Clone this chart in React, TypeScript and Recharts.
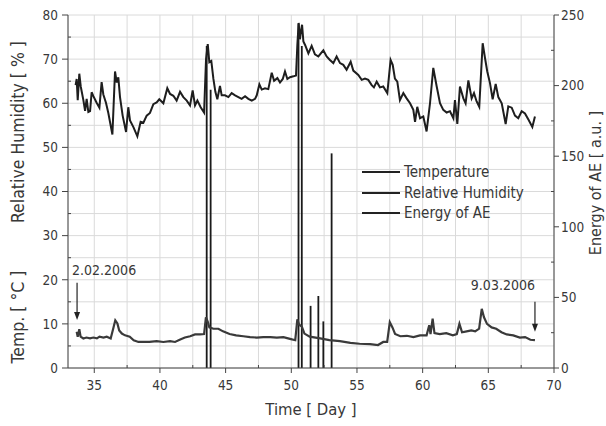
import { Bar, CartesianGrid, ComposedChart, Label, Legend, Line, ReferenceLine, XAxis, YAxis } from "recharts"

// humidity (left axis, %)
const rhDays = [
  33.58, 33.66, 33.74, 33.86, 33.97, 34.17, 34.3, 34.42, 34.55, 34.68, 34.8, 34.93, 35.18, 35.39, 35.56, 35.69,
  35.89, 36.07, 36.38, 36.58, 36.71, 36.83, 36.96, 37.16, 37.42, 37.59, 37.72, 37.98, 38.28, 38.53, 38.74, 38.99,
  39.24, 39.5, 39.75, 39.95, 40.26, 40.56, 40.77, 41.02, 41.27, 41.53, 41.78, 42.04, 42.29, 42.49, 42.67, 42.85,
  43.1, 43.36, 43.51, 43.64, 43.76, 43.91, 44.07, 44.22, 44.37, 44.57, 44.7, 44.95, 45.21, 45.46, 45.72, 45.97,
  46.22, 46.48, 46.73, 46.99, 47.24, 47.37, 47.57, 47.75, 48.0, 48.25, 48.51, 48.69, 48.94, 49.14, 49.35, 49.52,
  49.7, 49.9, 50.16, 50.36, 50.46, 50.56, 50.66, 50.72, 50.82, 50.92, 51.05, 51.3, 51.55, 51.8, 52.06, 52.44,
  52.69, 52.94, 53.2, 53.45, 53.71, 53.96, 54.21, 54.52, 54.72, 55.1, 55.36, 55.61, 55.86, 56.12, 56.29, 56.5,
  56.75, 57.0, 57.31, 57.56, 57.72, 57.89, 58.07, 58.27, 58.53, 58.78, 59.04, 59.29, 59.42, 59.59, 59.8, 60.05,
  60.3, 60.56, 60.81, 61.07, 61.32, 61.57, 61.83, 62.08, 62.34, 62.46, 62.64, 62.84, 63.1, 63.27, 63.48, 63.73,
  63.91, 64.11, 64.31, 64.57, 64.75, 64.92, 65.13, 65.33, 65.56, 65.76, 66.02, 66.32, 66.52, 66.78, 67.03, 67.28,
  67.54, 67.79, 68.05, 68.35, 68.55,
]
const rhValues = [
  64.1, 65.5, 60.7, 66.7, 63.8, 60.7, 58.3, 61.0, 58.0, 58.2, 62.5, 61.6, 60.1, 59.0, 64.8, 62.0,
  60.1, 57.8, 52.9, 67.2, 64.7, 65.9, 61.4, 57.2, 53.5, 59.1, 56.1, 54.6, 52.5, 55.8, 55.6, 57.2,
  57.8, 59.8, 60.2, 60.9, 60.0, 63.4, 62.1, 61.7, 60.6, 62.6, 61.4, 60.6, 59.5, 62.9, 59.5, 60.6,
  59.1, 57.9, 70.0, 73.4, 69.3, 69.6, 65.5, 62.6, 60.9, 63.9, 61.8, 61.8, 61.4, 62.3, 61.8, 61.4,
  61.0, 61.6, 61.0, 60.6, 61.0, 61.8, 64.3, 63.1, 63.4, 63.2, 66.9, 65.1, 65.7, 64.7, 65.5, 67.2,
  65.5, 65.9, 66.1, 66.3, 73.2, 78.2, 74.5, 76.0, 77.8, 74.0, 73.2, 71.3, 73.0, 71.1, 70.6, 72.0,
  70.6, 69.8, 69.1, 70.6, 69.1, 68.7, 67.6, 69.4, 67.4, 66.4, 65.3, 65.6, 65.3, 64.1, 63.6, 64.9,
  63.6, 63.8, 62.3, 69.8, 68.7, 65.6, 64.9, 60.7, 62.3, 61.1, 60.0, 58.5, 55.8, 59.2, 56.6, 57.0,
  53.6, 60.0, 68.0, 63.8, 60.0, 58.5, 57.9, 58.2, 56.6, 60.7, 55.3, 63.8, 61.1, 60.0, 65.2, 61.1,
  62.3, 60.4, 59.2, 73.6, 70.2, 67.2, 64.5, 60.9, 64.4, 61.4, 60.0, 55.3, 59.3, 59.0, 57.2, 56.6,
  58.2, 57.7, 56.3, 54.6, 57.0,
]

// temperature (left axis, °C)
const tempDays = [
  33.66, 33.74, 33.86, 33.96, 34.17, 34.4, 34.68, 34.93, 35.2, 35.4, 35.7, 35.95, 36.25, 36.45, 36.6, 36.76,
  36.9, 37.1, 37.34, 37.7, 38.0, 38.36, 38.74, 39.2, 39.75, 40.26, 40.77, 41.15, 41.5, 41.9, 42.3, 42.67,
  43.05, 43.36, 43.5, 43.65, 43.76, 44.07, 44.45, 44.8, 45.3, 45.8, 46.35, 46.86, 47.37, 47.87, 48.4, 48.9,
  49.4, 49.9, 50.3, 50.46, 50.6, 50.8, 51.0, 51.4, 52.2, 52.9, 53.7, 54.5, 55.2, 56.0, 56.6, 57.0,
  57.3, 57.5, 57.7, 57.9, 58.3, 58.8, 59.3, 59.8, 60.3, 60.5, 60.6, 60.76, 60.9, 61.3, 61.8, 62.3,
  62.6, 62.8, 63.0, 63.35, 63.7, 64.0, 64.3, 64.5, 64.67, 64.9, 65.25, 65.6, 66.0, 66.4, 66.9, 67.4,
  67.8, 68.2, 68.55,
]
const tempValues = [
  8.2, 7.1, 8.8, 7.1, 6.7, 6.9, 6.7, 6.9, 6.7, 7.1, 6.9, 7.1, 6.7, 9.0, 10.8, 10.1,
  8.5, 7.8, 7.4, 7.1, 6.3, 5.9, 5.9, 5.9, 6.1, 5.9, 6.1, 5.9, 6.4, 6.9, 7.2, 7.6,
  7.6, 7.7, 11.5, 10.4, 9.2, 8.9, 8.9, 8.3, 7.7, 7.4, 7.2, 7.0, 6.9, 7.0, 7.0, 6.9,
  7.0, 6.6, 6.3, 11.0, 9.8, 9.4, 7.8, 7.1, 6.7, 6.3, 6.1, 5.7, 5.5, 5.4, 5.2, 5.9,
  5.9, 10.4, 9.2, 7.7, 7.2, 7.3, 7.0, 7.4, 7.4, 9.7, 7.7, 11.2, 7.9, 7.7, 7.9, 7.4,
  7.7, 10.0, 8.1, 8.3, 8.5, 8.3, 8.9, 13.4, 11.5, 10.0, 9.2, 8.9, 8.1, 7.6, 7.4, 6.9,
  7.0, 6.4, 6.3,
]

// acoustic emission energy (right axis, a.u.)
const aeDays = [43.56, 43.86, 50.55, 50.8, 51.47, 52.06, 52.44, 53.07]
const aeValues = [228, 197, 244, 228, 44, 51, 33, 152]

const xTicks = [35, 37.5, 40, 42.5, 45, 47.5, 50, 52.5, 55, 57.5, 60, 62.5, 65, 67.5, 70]
const leftTicks = [0, 5, 10, 15, 20, 25, 30, 35, 40, 45, 50, 55, 60, 65, 70, 75, 80]
const rightTicks = [0, 25, 50, 75, 100, 125, 150, 175, 200, 225, 250]

const legendNames = ["Temperature", "Relative Humidity", "Energy of AE"]

const annotations = [
  { text: "2.02.2006", day: 33.69, from: 19.3, to: 10.9, anchor: "start" },
  { text: "9.03.2006", day: 68.55, from: 15.0, to: 8.2, anchor: "end" },
]

type Row = { day: number; rh?: number; temp?: number; ae?: number }

const byDay = new Map<number, Row>()
function put(days: number[], values: number[], key: "rh" | "temp" | "ae") {
  days.forEach((d, i) => {
    const row = byDay.get(d) ?? { day: d }
    row[key] = values[i]
    byDay.set(d, row)
  })
}
put(rhDays, rhValues, "rh")
put(tempDays, tempValues, "temp")
put(aeDays, aeValues, "ae")
const rows = [...byDay.values()].sort((a, b) => a.day - b.day)

const font = "'DejaVu Sans Condensed', 'DejaVu Sans', sans-serif"
const ink = "#383838"
const axisInk = "#444"

function BottomTick({ x, y, payload }: any) {
  const v = payload.value
  const major = v % 5 === 0
  return (
    <g>
      <line x1={x} x2={x} y1={y} y2={major ? y + 5 : y - 3} stroke={axisInk} />
      {major && (
        <text x={x} y={y + 22} textAnchor="middle" fontSize={13.5} fontFamily={font} fill={ink}>
          {v}
        </text>
      )}
    </g>
  )
}

function TopTick({ x, y, payload }: any) {
  const major = payload.value % 5 === 0
  return <line x1={x} x2={x} y1={y} y2={y + (major ? 5 : 3)} stroke={axisInk} />
}

function LeftTick({ x, y, payload }: any) {
  const v = payload.value
  const major = v % 10 === 0
  return (
    <g>
      <line x1={major ? x - 6 : x} x2={major ? x : x + 3} y1={y} y2={y} stroke={axisInk} />
      {major && (
        <text x={x - 10} y={y} dy="0.36em" textAnchor="end" fontSize={13.5} fontFamily={font} fill={ink}>
          {v}
        </text>
      )}
    </g>
  )
}

function RightTick({ x, y, payload }: any) {
  const v = payload.value
  const major = v % 50 === 0
  return (
    <g>
      <line x1={major ? x : x - 3} x2={major ? x + 5 : x} y1={y} y2={y} stroke={axisInk} />
      {major && (
        <text x={x + 7} y={y} dy="0.36em" textAnchor="start" fontSize={13.5} fontFamily={font} fill={ink}>
          {v}
        </text>
      )}
    </g>
  )
}

// thin spike from zero up to the value
function Spike({ x, y, width, height }: any) {
  if (!height) return <g />
  const cx = x + width / 2
  return <line x1={cx} x2={cx} y1={y} y2={y + height} stroke="#1a1a1a" strokeWidth={1.8} />
}

function renderLegend() {
  return (
    <div style={{ fontFamily: font, fontSize: 15, color: ink, lineHeight: "20.5px" }}>
      {legendNames.map((name) => (
        <div key={name} style={{ display: "flex", alignItems: "center", height: 20.5 }}>
          <span style={{ display: "inline-block", width: 38, height: 2, background: "#222", marginRight: 4 }} />
          <span>{name}</span>
        </div>
      ))}
    </div>
  )
}

function arrowShape(a: (typeof annotations)[number]) {
  return (props: any) => {
    const { x1, y1, x2, y2 } = props
    const top = Math.min(y1, y2)
    const bottom = Math.max(y1, y2)
    return (
      <g>
        <line x1={x1} x2={x2} y1={top} y2={bottom - 6} stroke="#222" strokeWidth={1.2} />
        <polygon points={`${x1 - 3},${bottom - 8} ${x1 + 3},${bottom - 8} ${x1},${bottom}`} fill="#222" />
        <text
          x={a.anchor === "start" ? x1 - 5 : x1}
          y={top - (a.anchor === "start" ? 8 : 12)}
          textAnchor={a.anchor}
          fontSize={14}
          fontFamily={font}
          fill={ink}
        >
          {a.text}
        </text>
      </g>
    )
  }
}

export default function App() {
  return (
    <div style={{ position: "absolute", left: 0, top: 0, width: 606, height: 426, background: "#fff" }}>
      <ComposedChart width={606} height={426} data={rows} margin={{ top: 15, right: 0, bottom: 0, left: 0 }}>
        <CartesianGrid stroke="#dadada" strokeWidth={1} />
        <XAxis
          dataKey="day"
          type="number"
          domain={[33, 70]}
          ticks={xTicks}
          interval={0}
          height={58}
          tickLine={false}
          tickSize={0}
          tickMargin={0}
          stroke={axisInk}
          tick={<BottomTick />}
          allowDataOverflow
        >
          <Label
            content={({ viewBox }: any) => (
              <text
                x={viewBox.x + viewBox.width / 2}
                y={viewBox.y + 47}
                textAnchor="middle"
                fontSize={16.5}
                fontFamily={font}
                fill={ink}
              >
                Time [ Day ]
              </text>
            )}
          />
        </XAxis>
        <XAxis
          xAxisId="top"
          orientation="top"
          dataKey="day"
          type="number"
          domain={[33, 70]}
          ticks={xTicks}
          interval={0}
          height={0}
          tickLine={false}
          tickSize={0}
          tickMargin={0}
          stroke={axisInk}
          tick={<TopTick />}
          allowDataOverflow
        />
        <YAxis
          type="number"
          domain={[0, 80]}
          ticks={leftTicks}
          interval={0}
          width={68}
          tickLine={false}
          tickSize={0}
          tickMargin={0}
          stroke={axisInk}
          tick={<LeftTick />}
        >
          <Label
            content={({ viewBox }: any) => (
              <g fontSize={17.5} fontFamily={font} fill={ink}>
                <text transform={`translate(${viewBox.x + 24},132) rotate(-90)`} textAnchor="middle">
                  Relative Humidity [ % ]
                </text>
                <text transform={`translate(${viewBox.x + 24},317) rotate(-90)`} textAnchor="middle">
                  Temp. [ °C ]
                </text>
              </g>
            )}
          />
        </YAxis>
        <YAxis
          yAxisId="right"
          orientation="right"
          type="number"
          domain={[0, 250]}
          ticks={rightTicks}
          interval={0}
          width={52}
          tickLine={false}
          tickSize={0}
          tickMargin={0}
          stroke={axisInk}
          tick={<RightTick />}
        >
          <Label
            content={({ viewBox }: any) => (
              <text
                transform={`translate(${viewBox.x + 47},183) rotate(-90)`}
                textAnchor="middle"
                fontSize={16}
                fontFamily={font}
                fill={ink}
              >
                Energy of AE [ a.u. ]
              </text>
            )}
          />
        </YAxis>
        <Legend
          layout="vertical"
          align="center"
          verticalAlign="middle"
          content={renderLegend}
          wrapperStyle={{ left: 362, top: 162, width: 200 }}
        />
        <Bar
          dataKey="ae"
          name="Energy of AE"
          yAxisId="right"
          barSize={2}
          fill="#1a1a1a"
          shape={<Spike />}
          isAnimationActive={false}
        />
        <Line
          dataKey="temp"
          name="Temperature"
          type="linear"
          stroke="#3a3a3a"
          strokeWidth={2.2}
          dot={false}
          connectNulls
          isAnimationActive={false}
        />
        <Line
          dataKey="rh"
          name="Relative Humidity"
          type="linear"
          stroke="#1e1e1e"
          strokeWidth={2}
          dot={false}
          connectNulls
          isAnimationActive={false}
        />
        {annotations.map((a) => (
          <ReferenceLine
            key={a.text}
            segment={[
              { x: a.day, y: a.from },
              { x: a.day, y: a.to },
            ]}
            shape={arrowShape(a)}
            ifOverflow="visible"
          />
        ))}
      </ComposedChart>
    </div>
  )
}
